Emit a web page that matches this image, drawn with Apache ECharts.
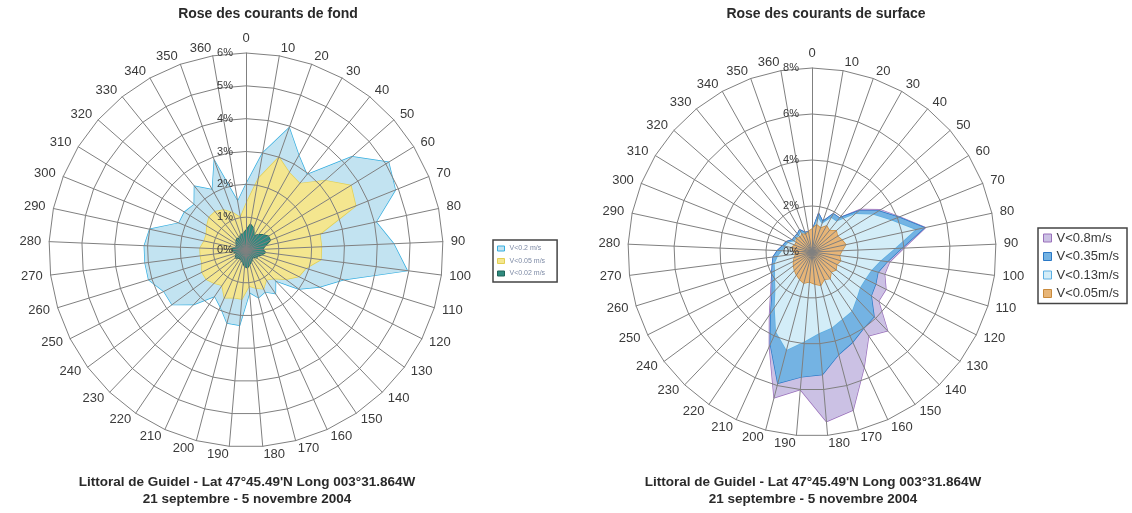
<!DOCTYPE html>
<html>
<head>
<meta charset="utf-8">
<script src="https://cdn.jsdelivr.net/npm/echarts@6/dist/echarts.min.js"></script>
<style>
  html, body { margin: 0; padding: 0; background: #ffffff; }
  #chart { width: 1132px; height: 513px; }
</style>
</head>
<body>
<div id="chart"></div>
<script>
// Direction categories (degrees), Excel-style radar: 0 and 360 are both shown
const directions = ['0','10','20','30','40','50','60','70','80','90','100','110','120','130','140','150','160','170','180','190','200','210','220','230','240','250','260','270','280','290','300','310','320','330','340','350','360'];

// Bottom currents, frequency (%) per direction
const fondV02  = [2.0,3.0,3.95,3.3,2.95,4.3,5.1,4.9,4.05,4.5,4.95,3.1,2.5,2.0,1.3,1.6,1.4,1.5,1.3,2.3,2.3,1.9,1.7,2.3,2.8,2.8,3.1,3.1,3.1,3.0,2.2,2.2,2.1,2.5,2.1,2.9,1.5];
const fondV005 = [1.4,2.2,3.0,2.7,2.6,3.2,3.75,3.6,2.3,2.3,2.3,1.9,1.8,1.5,1.2,1.1,1.3,1.2,1.1,1.5,1.5,1.6,1.3,1.4,1.5,1.5,1.4,1.4,1.4,1.3,1.3,1.4,1.5,1.5,1.4,1.2,1.0];
const fondV002 = [0.6,0.8,0.7,0.5,0.6,0.7,0.8,0.8,0.6,0.5,0.6,0.5,0.4,0.4,0.3,0.35,0.4,0.45,0.55,0.5,0.4,0.35,0.3,0.35,0.4,0.35,0.3,0.4,0.45,0.35,0.3,0.35,0.4,0.45,0.4,0.5,0.5];

// Surface currents, frequency (%) per direction
const surfV08  = [0.9,1.7,1.4,1.9,1.9,2.8,3.5,4.1,5.05,4.0,3.4,3.3,3.6,3.6,4.75,4.4,5.5,7.1,7.4,6.0,6.55,4.5,3.3,2.6,2.2,1.95,1.8,1.7,1.5,1.3,1.2,1.0,1.0,1.0,1.1,0.9,0.9];
const surfV035 = [0.9,1.7,1.4,1.9,1.9,2.7,3.4,4.05,5.0,3.9,3.3,3.0,3.1,3.2,3.9,4.0,4.3,4.6,5.35,5.45,5.9,4.4,3.2,2.5,2.15,1.95,1.8,1.7,1.5,1.3,1.2,1.0,1.0,1.0,1.1,0.9,0.9];
const surfV013 = [0.8,1.5,1.3,1.7,1.7,2.5,3.1,3.7,4.6,3.6,3.0,2.7,2.6,2.6,2.8,3.1,3.2,3.4,3.55,3.9,4.4,3.8,2.9,2.3,2.0,1.8,1.7,1.5,1.3,1.2,1.1,0.9,0.9,0.9,1.0,0.8,0.8];
const surfV005 = [1.0,1.2,1.1,1.3,1.2,1.4,1.3,1.4,1.5,1.3,1.2,1.3,1.2,1.3,1.2,1.4,1.3,1.5,1.4,1.3,1.4,1.3,1.2,1.1,1.0,0.9,0.8,0.7,0.8,0.9,0.8,0.8,0.9,0.8,0.9,0.8,0.9];

// Radial scales (%)
const fondMax = 6, fondSplits = 6;
const surfMax = 8, surfSplits = 4;

// Legend labels
const fondNames = ['V<0.2 m/s', 'V<0.05 m/s', 'V<0.02 m/s'];
const surfNames = ['V<0.8m/s', 'V<0.35m/s', 'V<0.13m/s', 'V<0.05m/s'];

// ECharts radar runs counter-clockwise; reorder so directions run clockwise from north
const order = [0].concat(directions.map((_, i) => directions.length - 1 - i).slice(0, -1));
const cw = arr => order.map(i => arr[i]);

const GRID = '#808080';
const TXT = '#3a3a3a';
const FONT = '"Liberation Sans", Arial, sans-serif';

function radarOf(center, radius, max, splits) {
  return {
    center: center,
    radius: radius,
    startAngle: 90,
    shape: 'polygon',
    splitNumber: splits,
    z: 3,
    nameGap: 8,
    axisName: { color: TXT, fontSize: 13, fontFamily: FONT },
    indicator: order.map((i, k) => {
      const ind = { name: directions[i], min: 0, max: max };
      if (k === 0) {
        ind.axisLabel = { show: true, formatter: '{value}%', color: TXT, fontSize: 11, fontFamily: FONT, margin: 13 };
      }
      return ind;
    }),
    splitLine: { lineStyle: { color: GRID, width: 1 } },
    splitArea: { show: false },
    axisLine: { lineStyle: { color: GRID, width: 1 } },
    axisTick: { show: false },
    axisLabel: { show: false }
  };
}

function area(radarIndex, name, values, fill, stroke, z) {
  return {
    type: 'radar',
    radarIndex: radarIndex,
    z: z,
    symbol: 'none',
    silent: true,
    data: [{
      name: name,
      value: cw(values),
      areaStyle: { color: fill, opacity: 1 },
      lineStyle: { color: stroke, width: 1.4 },
      itemStyle: { color: fill, borderColor: stroke }
    }]
  };
}

const fondColors = [['#c2e3f1', '#35aee0'], ['#f4e68f', '#e2cf52'], ['#2f8a7e', '#1f6459']];
const surfColors = [['#cbc1e4', '#9a70bb'], ['#74b3e3', '#2a78c6'], ['#d3edf8', '#5aaee2'], ['#e7b577', '#c88a3c']];
const fondData = [fondV02, fondV005, fondV002];
const surfData = [surfV08, surfV035, surfV013, surfV005];

const series = [];
fondData.forEach((d, k) => series.push(area(0, fondNames[k], d, fondColors[k][0], fondColors[k][1], 1 + k * 0.1)));
surfData.forEach((d, k) => series.push(area(1, surfNames[k], d, surfColors[k][0], surfColors[k][1], 1 + k * 0.1)));

const footer = 'Littoral de Guidel - Lat 47°45.49\'N Long 003°31.864W\n21 septembre - 5 novembre 2004';
const titleStyle = { fontSize: 14, fontWeight: 'bold', color: '#2a2a2a', fontFamily: FONT };
const footStyle = { fontSize: 13.5, fontWeight: 'bold', color: '#2a2a2a', fontFamily: FONT, lineHeight: 17 };

const chart = echarts.init(document.getElementById('chart'), null, { renderer: 'canvas' });
chart.setOption({
  animation: false,
  backgroundColor: '#ffffff',
  title: [
    { text: 'Rose des courants de fond', left: 268, top: 7, textAlign: 'center', padding: 0, textStyle: titleStyle },
    { text: 'Rose des courants de surface', left: 826, top: 7, textAlign: 'center', padding: 0, textStyle: titleStyle },
    { text: footer, left: 247, top: 474, textAlign: 'center', padding: 0, textStyle: footStyle },
    { text: footer, left: 813, top: 474, textAlign: 'center', padding: 0, textStyle: footStyle }
  ],
  legend: [
    {
      orient: 'vertical', left: 493, top: 240,
      padding: [5, 12, 5, 4], itemGap: 5.5, itemWidth: 7, itemHeight: 5,
      borderColor: '#444444', borderWidth: 1.5, icon: 'rect',
      textStyle: { fontSize: 7, color: '#7d8aa5', fontFamily: FONT },
      data: fondNames.map((n, k) => ({ name: n, itemStyle: { color: fondColors[k][0], borderColor: fondColors[k][1], borderWidth: 1 } }))
    },
    {
      orient: 'vertical', left: 1038, top: 228,
      padding: [3, 8, 3, 5], itemGap: 4.5, itemWidth: 8, itemHeight: 8,
      borderColor: '#444444', borderWidth: 1.5, icon: 'rect',
      textStyle: { fontSize: 13, lineHeight: 14, color: TXT, fontFamily: FONT },
      data: surfNames.map((n, k) => ({ name: n, itemStyle: { color: surfColors[k][0], borderColor: surfColors[k][1], borderWidth: 1 } }))
    }
  ],
  radar: [
    radarOf([246, 250], 197, fondMax, fondSplits),
    radarOf([812, 252], 184, surfMax, surfSplits)
  ],
  series: series
});
</script>
</body>
</html>
